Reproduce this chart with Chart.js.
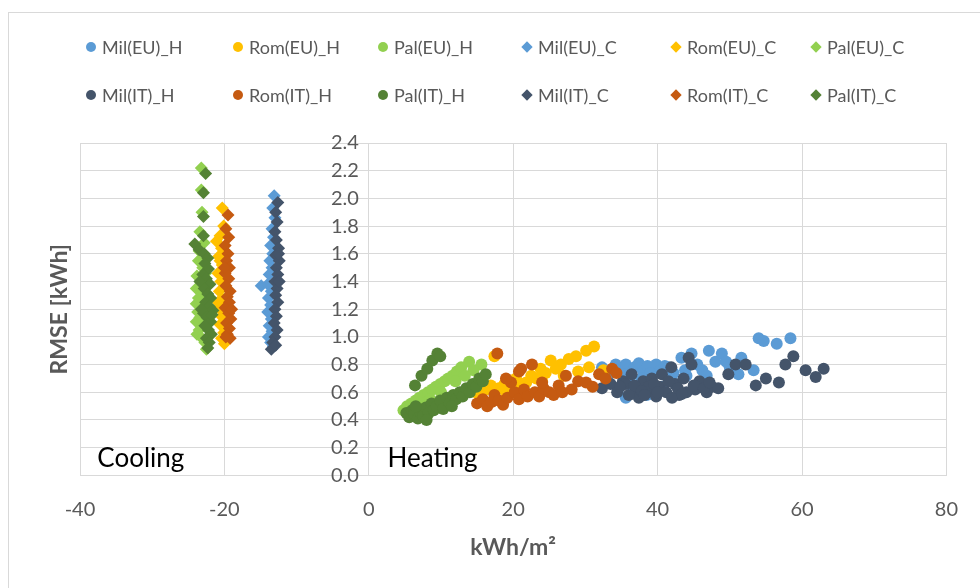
<!DOCTYPE html>
<html>
<head>
<meta charset="utf-8">
<script src="https://cdn.jsdelivr.net/npm/chart.js@4.4.1/dist/chart.umd.min.js"></script>
<style>
  body { margin: 0; background: #fff; }
  .wrap { position: relative; width: 980px; height: 588px; overflow: hidden; background: #fff; font-family: Lato, "Open Sans", sans-serif; }
  .frame { position: absolute; left: 8px; top: 12px; width: 1000px; height: 600px; border: 1px solid #d9d9d9; }
  .legend { position: absolute; left: 86px; top: 34px; display: grid; grid-template-columns: 147px 145px 144px 149px 140px 130px; row-gap: 22px; }
  .legend-item { display: flex; align-items: center; height: 26px; font-size: 18px; color: #595959; white-space: nowrap; }
  .dot { width: 10px; height: 10px; border-radius: 50%; margin-right: 6px; }
  .dia { width: 8px; height: 8px; transform: rotate(45deg); margin: 0 7px 0 1px; }
  canvas { position: absolute; left: 0; top: 0; }
</style>
</head>
<body>
<div class="wrap">
  <div class="frame"></div>
  <canvas id="chart" width="980" height="588"></canvas>
  <div class="legend" id="legend"></div>
</div>
<script>
// heating (x > 0), circles
const milEuH = [[32.3,0.78],[33.5,0.74],[34.2,0.80],[35.0,0.76],[35.6,0.80],[36.3,0.72],[36.8,0.78],[37.4,0.81],[38.0,0.75],[38.6,0.79],[39.2,0.61],[39.8,0.80],[40.4,0.76],[41.0,0.79],[41.5,0.78],[42.2,0.74],[43.3,0.85],[44.0,0.72],[44.7,0.88],[45.5,0.80],[46.2,0.76],[47.1,0.90],[48.0,0.82],[48.9,0.88],[50.0,0.78],[51.2,0.73],[51.6,0.85],[53.3,0.76],[54.0,0.99],[54.7,0.97],[56.5,0.95],[58.4,0.99],[35.6,0.56],[37.0,0.60],[38.5,0.58],[34.5,0.62],[40.5,0.64],[42.5,0.66],[33.0,0.70],[35.3,0.73],[36.0,0.66],[37.8,0.70],[39.0,0.74],[41.8,0.70],[43.8,0.76],[46.8,0.72],[49.5,0.82]];
const romEuH = [[14.8,0.60],[15.5,0.57],[16.2,0.62],[16.9,0.65],[17.4,0.86],[18.0,0.63],[18.8,0.66],[19.5,0.64],[20.4,0.70],[21.0,0.66],[21.8,0.67],[22.5,0.72],[23.2,0.70],[23.8,0.77],[24.5,0.74],[25.2,0.83],[25.9,0.77],[26.6,0.80],[27.7,0.84],[28.7,0.86],[30.1,0.90],[31.2,0.93],[30.5,0.78],[29.0,0.75],[27.0,0.72],[32.5,0.76],[24.0,0.68],[19.0,0.60]];
const palEuH = [[4.8,0.47],[5.3,0.50],[5.9,0.52],[6.5,0.54],[7.0,0.56],[7.6,0.58],[8.2,0.60],[8.8,0.62],[9.3,0.64],[9.9,0.66],[10.5,0.68],[11.0,0.70],[11.6,0.72],[12.2,0.75],[12.8,0.78],[13.9,0.82],[15.6,0.80],[14.5,0.76],[10.0,0.60],[7.5,0.52],[6.0,0.48],[8.5,0.55],[12.0,0.68],[13.3,0.72]];
const milItH = [[32.3,0.63],[33.5,0.66],[34.4,0.60],[35.2,0.68],[35.6,0.66],[36.4,0.73],[37.0,0.62],[37.4,0.56],[38.0,0.68],[38.6,0.60],[39.2,0.70],[39.8,0.57],[40.3,0.64],[40.6,0.73],[41.2,0.60],[41.9,0.78],[42.4,0.66],[43.0,0.58],[43.6,0.70],[44.3,0.85],[44.7,0.80],[45.2,0.62],[45.8,0.68],[46.1,0.66],[46.8,0.60],[47.5,0.64],[48.4,0.63],[49.8,0.73],[50.8,0.80],[52.2,0.80],[53.6,0.65],[55.0,0.70],[56.8,0.67],[57.7,0.80],[58.8,0.86],[60.5,0.76],[61.9,0.71],[63.0,0.77],[36.0,0.58],[42.0,0.56],[38.8,0.64],[44.0,0.60],[36.8,0.65],[37.8,0.61],[39.5,0.66],[40.0,0.60],[41.5,0.68],[42.8,0.63],[43.4,0.59],[45.0,0.65],[46.4,0.63],[47.2,0.67],[34.8,0.64],[38.2,0.58]];
const romItH = [[15.0,0.52],[15.8,0.55],[16.4,0.50],[17.0,0.53],[17.4,0.58],[18.0,0.54],[18.6,0.51],[19.2,0.56],[19.7,0.67],[20.2,0.60],[20.8,0.55],[21.1,0.77],[21.5,0.62],[22.0,0.57],[22.6,0.80],[23.0,0.60],[23.6,0.57],[24.2,0.63],[25.0,0.60],[25.6,0.58],[26.3,0.65],[27.3,0.72],[28.1,0.62],[29.0,0.68],[30.1,0.67],[31.0,0.64],[31.9,0.73],[32.8,0.70],[33.7,0.77],[34.3,0.74],[17.8,0.88],[19.0,0.70],[20.8,0.75],[24.0,0.67],[26.8,0.60]];
const palItH = [[5.2,0.45],[5.6,0.42],[6.0,0.47],[6.3,0.44],[6.8,0.41],[7.1,0.46],[7.5,0.43],[7.9,0.49],[8.3,0.45],[8.7,0.52],[9.0,0.47],[9.4,0.50],[9.9,0.54],[10.3,0.48],[10.8,0.56],[11.2,0.52],[11.7,0.58],[12.1,0.55],[12.6,0.60],[13.0,0.57],[13.5,0.63],[14.0,0.60],[14.4,0.66],[14.9,0.64],[15.3,0.70],[15.8,0.68],[16.2,0.73],[11.5,0.50],[8.0,0.40],[6.5,0.50],[6.4,0.65],[7.3,0.72],[8.1,0.77],[8.8,0.83],[9.5,0.88],[9.9,0.86]];

// cooling (x < 0), diamonds
const milEuC = [[-13.1,2.02],[-13.3,1.93],[-13.0,1.86],[-13.4,1.78],[-13.2,1.72],[-13.6,1.66],[-13.3,1.60],[-13.7,1.55],[-13.4,1.50],[-13.8,1.45],[-14.9,1.37],[-14.0,1.38],[-13.5,1.33],[-13.9,1.28],[-13.6,1.23],[-14.0,1.18],[-13.5,1.13],[-13.8,1.08],[-13.4,1.04],[-13.9,1.00],[-13.6,0.96],[-13.2,0.93]];
const romEuC = [[-20.3,1.93],[-20.1,1.80],[-20.6,1.73],[-21.1,1.69],[-20.4,1.64],[-20.8,1.58],[-20.3,1.52],[-20.9,1.46],[-20.5,1.40],[-20.7,1.33],[-20.2,1.27],[-20.8,1.21],[-20.4,1.15],[-20.6,1.09],[-20.1,1.03],[-20.4,0.99],[-20.0,0.95],[-20.9,1.25],[-20.6,1.55]];
const palEuC = [[-23.2,2.22],[-23.2,2.06],[-23.1,1.90],[-23.4,1.76],[-22.8,1.68],[-23.6,1.55],[-23.0,1.50],[-23.8,1.44],[-23.3,1.40],[-23.9,1.35],[-23.1,1.32],[-23.6,1.28],[-23.9,1.24],[-23.2,1.21],[-23.7,1.18],[-23.4,1.14],[-23.9,1.11],[-23.0,1.08],[-23.5,1.05],[-23.8,1.02],[-23.1,0.99],[-22.7,0.96],[-22.5,0.91],[-23.3,1.26],[-22.6,1.46],[-23.5,1.62]];
const milItC = [[-12.6,1.97],[-12.9,1.90],[-12.7,1.83],[-13.0,1.76],[-12.8,1.70],[-12.5,1.64],[-12.9,1.59],[-12.4,1.55],[-12.8,1.50],[-12.6,1.45],[-13.0,1.40],[-12.7,1.35],[-12.9,1.30],[-12.6,1.25],[-13.0,1.20],[-12.8,1.15],[-13.1,1.10],[-12.7,1.05],[-13.0,1.00],[-13.3,0.96],[-13.5,0.91],[-12.9,0.94],[-12.5,1.60],[-12.4,1.40]];
const romItC = [[-19.5,1.88],[-19.8,1.78],[-19.4,1.72],[-19.9,1.66],[-19.5,1.60],[-19.7,1.55],[-19.3,1.50],[-19.9,1.46],[-19.4,1.42],[-19.8,1.37],[-19.2,1.33],[-19.6,1.29],[-19.3,1.25],[-19.9,1.21],[-19.4,1.17],[-19.1,1.13],[-19.7,1.10],[-19.3,1.06],[-19.6,1.02],[-19.2,0.99],[-19.8,1.00],[-20.0,1.50],[-19.0,1.20]];
const palItC = [[-22.6,2.18],[-22.9,2.04],[-22.9,1.87],[-22.9,1.73],[-24.1,1.67],[-23.5,1.63],[-22.8,1.60],[-22.3,1.57],[-22.7,1.53],[-22.2,1.49],[-23.0,1.45],[-22.5,1.42],[-22.0,1.38],[-22.8,1.35],[-22.3,1.31],[-21.9,1.28],[-22.6,1.25],[-22.1,1.22],[-21.6,1.19],[-22.9,1.17],[-22.4,1.14],[-21.9,1.11],[-22.7,1.08],[-22.2,1.05],[-21.8,1.02],[-22.5,0.99],[-22.1,0.96],[-22.3,0.92],[-23.2,1.20],[-23.4,1.40],[-21.7,1.16]];

const seriesNames = ['Mil(EU)_H', 'Rom(EU)_H', 'Pal(EU)_H', 'Mil(EU)_C', 'Rom(EU)_C', 'Pal(EU)_C',
                     'Mil(IT)_H', 'Rom(IT)_H', 'Pal(IT)_H', 'Mil(IT)_C', 'Rom(IT)_C', 'Pal(IT)_C'];
const seriesData = [milEuH, romEuH, palEuH, milEuC, romEuC, palEuC, milItH, romItH, palItH, milItC, romItC, palItC];
const seriesColors = ['#5b9bd5', '#ffc000', '#92d050', '#5b9bd5', '#ffc000', '#92d050',
                      '#44546a', '#c55a11', '#548235', '#44546a', '#c55a11', '#548235'];

const xTicks = [-40, -20, 0, 20, 40, 60, 80];
const yTicks = [0, 0.2, 0.4, 0.6, 0.8, 1.0, 1.2, 1.4, 1.6, 1.8, 2.0, 2.2, 2.4];

document.addEventListener("DOMContentLoaded", () => {
  const legend = document.getElementById('legend');
  const ctx = document.getElementById('chart').getContext('2d');

  function isCooling(name) {
    return name.endsWith('_C');
  }

  seriesNames.forEach((name, i) => {
    const item = document.createElement('div');
    item.classList.add('legend-item');
    item.innerHTML = `<span class="${isCooling(name) ? 'dia' : 'dot'}" style="background:${seriesColors[i]};"></span>${name}`;
    legend.appendChild(item);
  });

  const datasets = seriesNames.map((name, i) => ({
    label: name,
    data: seriesData[i].map(p => ({ x: p[0], y: p[1] })),
    backgroundColor: seriesColors[i],
    borderColor: seriesColors[i],
    borderWidth: 0,
    pointStyle: isCooling(name) ? 'rectRot' : 'circle',
    pointRadius: isCooling(name) ? 6.5 : 6,
    order: seriesNames.length - i   // later series on top, like Excel
  }));

  // text boxes and the vertical axis title
  const chartText = {
    id: 'chartText',
    afterDraw(chart) {
      const { ctx, scales: { x, y }, chartArea } = chart;
      ctx.save();
      ctx.fillStyle = '#000';
      ctx.font = '26px Lato';
      ctx.textBaseline = 'middle';
      ctx.fillText('Cooling', x.getPixelForValue(-37.6), y.getPixelForValue(0.12));
      ctx.fillText('Heating', x.getPixelForValue(2.6), y.getPixelForValue(0.12));
      ctx.translate(60, (chartArea.top + chartArea.bottom) / 2);
      ctx.rotate(-Math.PI / 2);
      ctx.font = 'bold 23px Lato';
      ctx.fillStyle = '#595959';
      ctx.textAlign = 'center';
      ctx.fillText('RMSE [kWh]', 0, 0);
      ctx.restore();
    }
  };

  new Chart(ctx, {
    type: 'scatter',
    data: { datasets },
    plugins: [chartText],
    options: {
      responsive: false,
      animation: false,
      layout: { padding: { left: 80, top: 143, right: 30, bottom: 27 } },
      plugins: { legend: { display: false }, tooltip: { enabled: false } },
      scales: {
        x: {
          type: 'linear', min: -40, max: 80,
          afterBuildTicks: (s) => { s.ticks = xTicks.map(v => ({ value: v })); },
          ticks: { padding: 22, color: '#595959', font: { family: 'Lato', size: 20 } },
          grid: { color: '#d9d9d9', drawTicks: false },
          border: { color: '#d9d9d9' },
          title: { display: true, text: 'kWh/m²', color: '#595959', font: { family: 'Lato', size: 23, weight: 'bold' }, padding: { top: -10, bottom: 0 } }
        },
        y: {
          type: 'linear', min: 0, max: 2.4,
          position: { x: 0 },
          afterBuildTicks: (s) => { s.ticks = yTicks.map(v => ({ value: v })); },
          ticks: { color: '#595959', font: { family: 'Lato', size: 20 }, callback: v => v.toFixed(1) + '\u2002' },
          grid: { color: '#d9d9d9', drawTicks: false },
          border: { color: '#d9d9d9' }
        }
      }
    }
  });
});
</script>
</body>
</html>
